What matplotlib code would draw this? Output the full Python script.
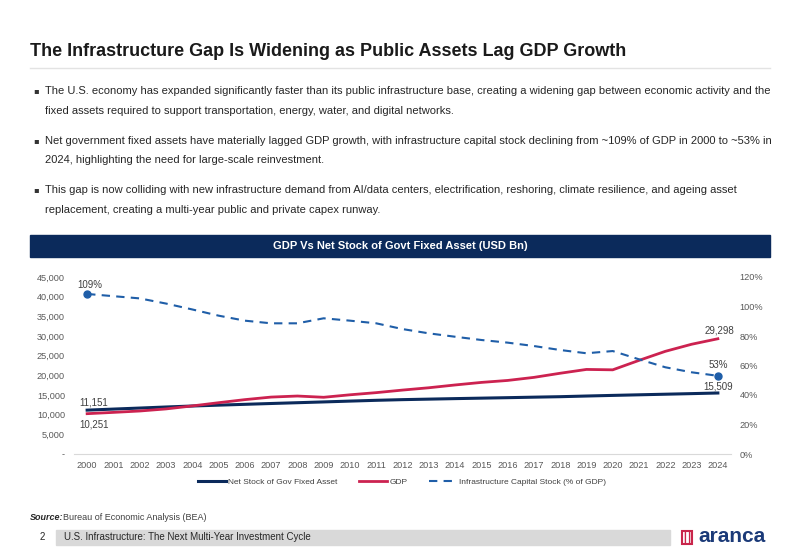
import matplotlib.pyplot as plt
import matplotlib.patches as mpatches
from matplotlib.ticker import FuncFormatter

ARIAL = ['Liberation Sans', 'DejaVu Sans']
NARROW = ['Liberation Sans Narrow', 'Liberation Sans', 'DejaVu Sans']
plt.rcParams['font.family'] = ARIAL

years = list(range(2000, 2025))
gdp = [10251, 10580, 10930, 11460, 12220, 13040, 13820, 14470, 14740, 14420,
       15050, 15600, 16250, 16840, 17550, 18200, 18700, 19480, 20530, 21500,
       21400, 23800, 26100, 27900, 29298]
net_stock = [11151, 11420, 11680, 11950, 12200, 12420, 12630, 12840, 13040, 13240,
             13450, 13650, 13820, 13950, 14080, 14200, 14320, 14450, 14570, 14740,
             14900, 15050, 15200, 15350, 15509]
infra_pct = [108.5, 107, 105.5, 102, 98, 93.8, 90.4, 88.6, 88.6, 92,
             90.4, 88.6, 84.7, 81.8, 79.5, 77.3, 75.5, 73.2, 70.5, 68.3,
             69.8, 64.2, 58.8, 55.4, 53]

title = "The Infrastructure Gap Is Widening as Public Assets Lag GDP Growth"
bullets = [
    ["The U.S. economy has expanded significantly faster than its public infrastructure base, creating a widening gap between economic activity and the",
     "fixed assets required to support transportation, energy, water, and digital networks."],
    ["Net government fixed assets have materially lagged GDP growth, with infrastructure capital stock declining from ~109% of GDP in 2000 to ~53% in",
     "2024, highlighting the need for large-scale reinvestment."],
    ["This gap is now colliding with new infrastructure demand from AI/data centers, electrification, reshoring, climate resilience, and ageing asset",
     "replacement, creating a multi-year public and private capex runway."],
]

W, H = 800, 554
NAVY = '#0b2a5b'
RED = '#cc2250'
BLUE = '#1f5ea8'
GREY = '#595959'


def px(x, y):
    return x / W, 1 - y / H


fig = plt.figure(figsize=(8, 5.54), dpi=100)

# title and rule
fig.text(*px(30, 51), title, fontsize=13, fontweight='bold', color='#1a1a1a', va='center', family=NARROW)
fig.add_artist(plt.Line2D([30 / W, 770 / W], [1 - 68 / H, 1 - 68 / H], color='#e3e3e3', lw=1))

# bullets
rows = [91, 111, 141, 160, 190, 210]
k = 0
for b in bullets:
    for i, line in enumerate(b):
        if i == 0:
            fig.text(*px(33, rows[k]), '\u25aa', fontsize=6, color='#333333', va='center', family='DejaVu Sans')
        fig.text(*px(45, rows[k]), line, fontsize=8, color='#262626', va='center', family=NARROW)
        k += 1

# chart header bar
fig.add_artist(mpatches.Rectangle(px(30, 257), 740 / W, 22 / H, color=NAVY, transform=fig.transFigure))
fig.text(*px(400, 246), "GDP Vs Net Stock of Govt Fixed Asset (USD Bn)", fontsize=8, fontweight='bold',
         color='white', ha='center', va='center')

# chart
ax = fig.add_axes([74 / W, 1 - 454 / H, (731 - 74) / W, (454 - 277) / H])
x = list(range(len(years)))
ax.plot(x, net_stock, color=NAVY, lw=2.2, label='Net Stock of Gov Fixed Asset', zorder=3)
ax.plot(x, gdp, color=RED, lw=2.0, label='GDP', zorder=3)
ax.set_xlim(-0.5, len(years) - 0.5)
ax.set_ylim(0, 45000)
ax.set_yticks(range(0, 45001, 5000))
ax.yaxis.set_major_formatter(FuncFormatter(lambda v, p: '-' if v == 0 else f'{int(v):,}'))
ax.set_xticks(x)
ax.set_xticklabels([str(y) for y in years])
for s in ['top', 'right', 'left']:
    ax.spines[s].set_visible(False)
ax.spines['bottom'].set_color('#d9d9d9')
ax.tick_params(axis='both', length=0, labelsize=6.6, colors=GREY, pad=5)
ax.tick_params(axis='y', pad=6.5)

ax2 = ax.twinx()
ax2.plot(x, infra_pct, color=BLUE, lw=1.5, ls=(0, (4, 3)), label='Infrastructure Capital Stock (% of GDP)', zorder=3)
ax2.plot([x[0], x[-1]], [infra_pct[0], infra_pct[-1]], 'o', color=BLUE, ms=5, zorder=4)
ax2.set_ylim(0, 120)
ax2.set_yticks(range(0, 121, 20))
ax2.yaxis.set_major_formatter(FuncFormatter(lambda v, p: f'{int(v)}%'))
for s in ['top', 'right', 'left', 'bottom']:
    ax2.spines[s].set_visible(False)
ax2.tick_params(axis='y', length=0, labelsize=6.6, colors=GREY, pad=6)

# data labels
lab = dict(fontsize=7, color='#404040', ha='center', textcoords='offset points')
ax.annotate(f'{net_stock[0]:,}', (x[0], net_stock[0]), xytext=(5, 2), va='bottom', **lab)
ax.annotate(f'{gdp[0]:,}', (x[0], gdp[0]), xytext=(5, -4), va='top', **lab)
ax.annotate(f'{gdp[-1]:,}', (x[-1], gdp[-1]), xytext=(1, 2), va='bottom', **lab)
ax.annotate(f'{net_stock[-1]:,}', (x[-1], net_stock[-1]), xytext=(0, 1), va='bottom', **lab)
ax2.annotate('109%', (x[0], infra_pct[0]), xytext=(2, 3), va='bottom', **lab)
ax2.annotate('53%', (x[-1], infra_pct[-1]), xytext=(0, 4), va='bottom', **lab)

h1, l1 = ax.get_legend_handles_labels()
h2, l2 = ax2.get_legend_handles_labels()
fig.legend(h1 + h2[:1], l1 + l2[:1], loc='center', bbox_to_anchor=px(402, 482), ncol=3, frameon=False,
           fontsize=6, handlelength=3.4, columnspacing=2.6, handletextpad=0.2, labelcolor='#404040')

# source
fig.text(*px(30, 517), 'Source:', fontsize=6.5, fontweight='bold', style='italic', color='#262626', va='center',
         family=NARROW)
fig.text(*px(63, 517), 'Bureau of Economic Analysis (BEA)', fontsize=6.5, color='#404040', va='center',
         family=NARROW)

# footer
fig.add_artist(mpatches.Rectangle(px(56, 545), 614 / W, 15 / H, color='#d9d9d9', transform=fig.transFigure))
fig.text(*px(42, 537), '2', fontsize=7, color='#262626', va='center', ha='center', family=NARROW)
fig.text(*px(64, 537), 'U.S. Infrastructure: The Next Multi-Year Investment Cycle', fontsize=7, color='#262626',
         va='center', family=NARROW)
fig.add_artist(mpatches.Rectangle(px(682, 544), 10 / W, 13 / H, facecolor='none', edgecolor='#c9264b',
                                  lw=1.5, hatch='||||', transform=fig.transFigure))
fig.text(*px(698, 536), 'aranca', fontsize=15, fontweight='bold', color='#1b3a78', va='center')

fig.savefig('out.png', dpi=100)
